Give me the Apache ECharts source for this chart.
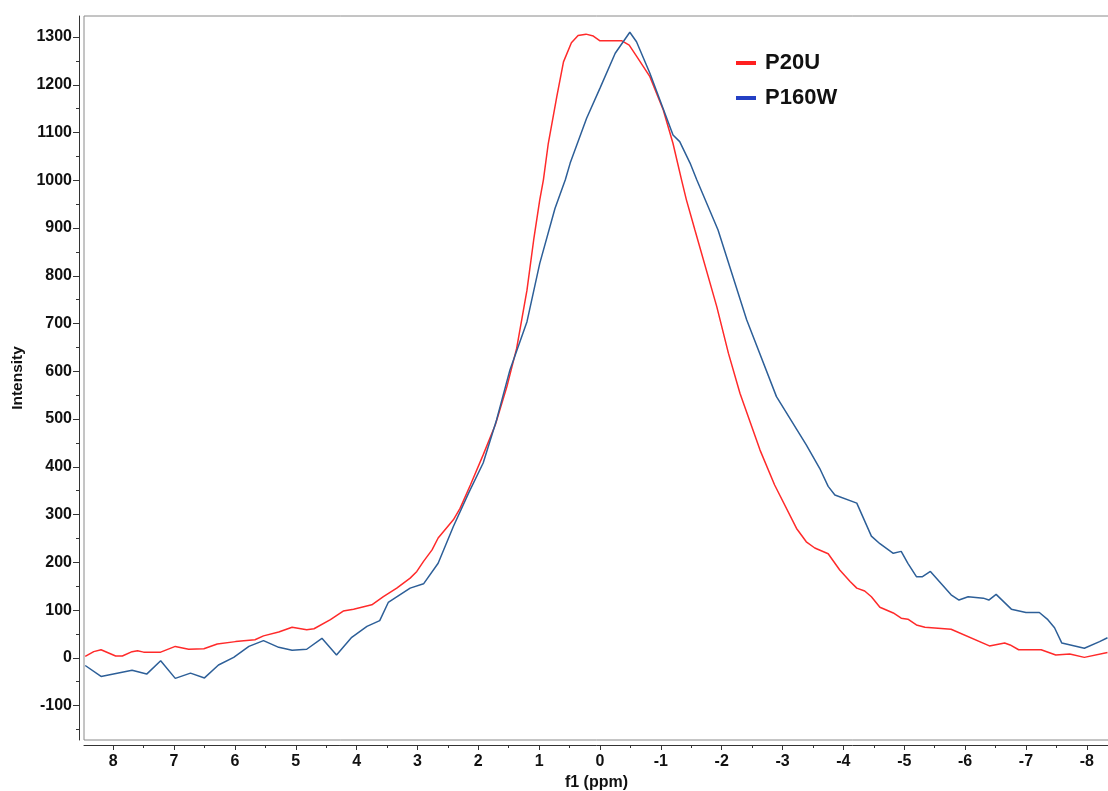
<!DOCTYPE html>
<html>
<head>
<meta charset="utf-8">
<script src="https://cdn.jsdelivr.net/npm/echarts@6/dist/echarts.min.js"></script>
<style>
  html, body { margin: 0; padding: 0; background: #fff; }
  #chart { width: 1108px; height: 791px; }
</style>
</head>
<body>
<div id="chart"></div>
<script>
// chemical shift (ppm) / intensity pairs
const p20u = [
  [8.46, 3], [8.32, 13], [8.2, 17], [7.96, 4], [7.85, 4], [7.69, 13], [7.6, 15], [7.5, 12],
  [7.22, 12], [6.98, 24], [6.76, 18], [6.51, 19], [6.29, 29], [5.99, 34], [5.67, 38], [5.53, 46],
  [5.28, 54], [5.06, 64], [4.82, 59], [4.7, 61], [4.43, 80], [4.22, 98], [4.05, 102], [3.75, 111],
  [3.56, 128], [3.34, 146], [3.12, 167], [3.01, 181], [2.9, 202], [2.76, 226], [2.66, 251],
  [2.41, 289], [2.3, 313], [2.13, 362], [1.92, 425], [1.72, 488], [1.53, 568], [1.37, 648],
  [1.2, 770], [1.09, 875], [0.99, 959], [0.93, 1001], [0.85, 1077], [0.71, 1175], [0.6, 1248],
  [0.47, 1288], [0.36, 1303], [0.23, 1306], [0.11, 1302], [0, 1292], [-0.36, 1292], [-0.48, 1283],
  [-0.6, 1260], [-0.82, 1217], [-1.04, 1147], [-1.2, 1077], [-1.34, 1001], [-1.42, 959],
  [-1.56, 896], [-1.92, 735], [-2.11, 638], [-2.3, 554], [-2.63, 435], [-2.87, 362], [-3.23, 271],
  [-3.39, 243], [-3.53, 230], [-3.75, 218], [-3.94, 184], [-4.11, 160], [-4.22, 146], [-4.35, 140],
  [-4.46, 128], [-4.6, 106], [-4.82, 94], [-4.95, 83], [-5.06, 81], [-5.2, 69], [-5.34, 64],
  [-5.77, 60], [-6.4, 25], [-6.65, 31], [-6.74, 27], [-6.88, 17], [-7.25, 17], [-7.49, 6],
  [-7.72, 8], [-7.96, 1], [-8.34, 11]
];
const p160w = [
  [8.46, -16], [8.2, -39], [7.69, -26], [7.45, -34], [7.22, -6], [6.98, -43], [6.73, -32],
  [6.5, -42], [6.27, -15], [6.02, 1], [5.77, 24], [5.53, 36], [5.28, 22], [5.06, 16], [4.82, 18],
  [4.57, 41], [4.33, 6], [4.08, 43], [3.83, 66], [3.62, 78], [3.48, 116], [3.12, 146], [2.9, 155],
  [2.66, 198], [2.41, 275], [2.16, 345], [1.92, 408], [1.7, 498], [1.48, 603], [1.2, 704],
  [0.99, 826], [0.74, 941], [0.57, 1001], [0.49, 1036], [0.22, 1130], [0, 1193], [-0.25, 1266],
  [-0.49, 1310], [-0.6, 1290], [-0.82, 1224], [-1.2, 1095], [-1.31, 1081], [-1.48, 1036],
  [-1.59, 1001], [-1.94, 896], [-2.41, 708], [-2.9, 547], [-3.39, 446], [-3.61, 397], [-3.75, 359],
  [-3.86, 341], [-4.22, 324], [-4.46, 255], [-4.6, 239], [-4.82, 219], [-4.95, 223], [-5.06, 198],
  [-5.2, 170], [-5.3, 170], [-5.43, 181], [-5.77, 132], [-5.9, 121], [-6.05, 128], [-6.3, 125],
  [-6.39, 121], [-6.51, 133], [-6.76, 102], [-7.0, 95], [-7.22, 95], [-7.36, 80], [-7.47, 63],
  [-7.59, 31], [-7.96, 20], [-8.21, 34], [-8.34, 42]
];
const xTicks = [8, 7, 6, 5, 4, 3, 2, 1, 0, -1, -2, -3, -4, -5, -6, -7, -8];
const xMinorTicks = [7.5, 6.5, 5.5, 4.5, 3.5, 2.5, 1.5, 0.5, -0.5, -1.5, -2.5, -3.5, -4.5, -5.5, -6.5, -7.5];
const yTicks = [-100, 0, 100, 200, 300, 400, 500, 600, 700, 800, 900, 1000, 1100, 1200, 1300];
const yMinorTicks = [-150, -50, 50, 150, 250, 350, 450, 550, 650, 750, 850, 950, 1050, 1150, 1250];

const font = "'Liberation Sans', Arial, sans-serif";
const axisColor = "#333";
const xRange = { min: -8.365, max: 8.48 };
const yRange = { min: -172, max: 1344 };
const plain = v => String(v);

let chart = echarts.init(document.getElementById("chart"));
chart.setOption({
  backgroundColor: "#fff",
  animation: false,
  grid: {
    left: 84, right: -1, top: 16, bottom: 51,
    outerBoundsMode: "none",
    show: true, borderColor: "#8a8a8a", borderWidth: 1
  },
  legend: {
    orient: "vertical",
    left: 736, top: 52, padding: 0,
    itemWidth: 20, itemHeight: 4, itemGap: 13,
    icon: "rect",
    textStyle: { fontFamily: font, fontWeight: "bold", fontSize: 22, color: "#111", padding: [0, 0, 0, 4] },
    data: [
      { name: "P20U", itemStyle: { color: "#ff2020" } },
      { name: "P160W", itemStyle: { color: "#2440c4" } }
    ]
  },
  xAxis: [
    {
      type: "value", inverse: true, min: xRange.min, max: xRange.max,
      position: "bottom", offset: 5,
      name: "f1 (ppm)", nameLocation: "middle", nameGap: 26,
      nameTextStyle: { fontFamily: font, fontWeight: "bold", fontSize: 16, color: "#111" },
      axisLine: { show: true, onZero: false, lineStyle: { color: axisColor, width: 1 } },
      axisTick: { show: true, length: 5, customValues: xTicks, lineStyle: { color: axisColor } },
      axisLabel: { customValues: xTicks, formatter: plain, margin: 9, fontFamily: font, fontWeight: "bold", fontSize: 16, color: "#111" },
      splitLine: { show: false }
    },
    {
      type: "value", inverse: true, min: xRange.min, max: xRange.max,
      position: "bottom", offset: 5,
      axisLine: { show: false, onZero: false },
      axisTick: { show: true, length: 3, customValues: xMinorTicks, lineStyle: { color: axisColor } },
      axisLabel: { show: false },
      splitLine: { show: false }
    }
  ],
  yAxis: [
    {
      type: "value", min: yRange.min, max: yRange.max,
      position: "left", offset: 5,
      name: "Intensity", nameLocation: "middle", nameGap: 52, nameRotate: 90,
      nameTextStyle: { fontFamily: font, fontWeight: "bold", fontSize: 15.5, color: "#111" },
      axisLine: { show: true, onZero: false, lineStyle: { color: axisColor, width: 1 } },
      axisTick: { show: true, length: 6, customValues: yTicks, lineStyle: { color: axisColor } },
      axisLabel: { customValues: yTicks, formatter: plain, margin: 7, fontFamily: font, fontWeight: "bold", fontSize: 16, color: "#111" },
      splitLine: { show: false }
    },
    {
      type: "value", min: yRange.min, max: yRange.max,
      position: "left", offset: 5,
      axisLine: { show: false, onZero: false },
      axisTick: { show: true, length: 3, customValues: yMinorTicks, lineStyle: { color: axisColor } },
      axisLabel: { show: false },
      splitLine: { show: false }
    }
  ],
  series: [
    {
      name: "P20U", type: "line", data: p20u, showSymbol: false,
      lineStyle: { color: "#ff2a2a", width: 1.5 }, itemStyle: { color: "#ff2020" }
    },
    {
      name: "P160W", type: "line", data: p160w, showSymbol: false,
      lineStyle: { color: "#2d5f98", width: 1.5 }, itemStyle: { color: "#2440c4" }
    }
  ]
});
</script>
</body>
</html>
